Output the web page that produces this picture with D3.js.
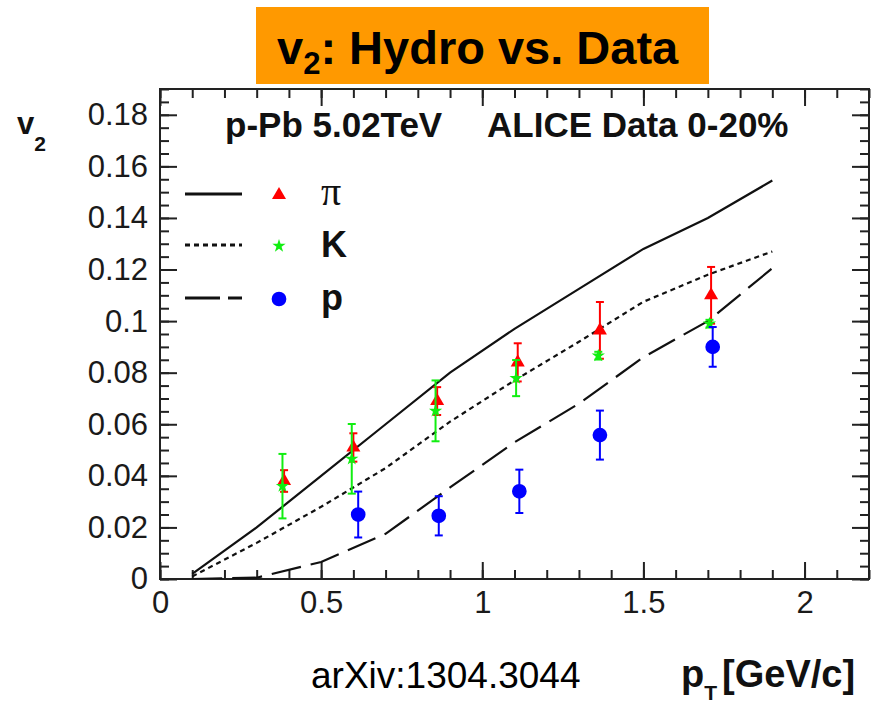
<!DOCTYPE html>
<html>
<head>
<meta charset="utf-8">
<script src="https://cdn.jsdelivr.net/npm/d3@7"></script>
<style>
  html, body { margin: 0; padding: 0; background: #fff; }
  svg { display: block; }
</style>
</head>
<body>
<svg id="chart" width="875" height="707"></svg>
<script>
// ALICE p-Pb 5.02 TeV, 0-20%: elliptic flow v2 vs pT, hydro curves and data

// Hydro curves (pT in GeV/c)
const hydroPt   = [0.1, 0.3, 0.5, 0.7, 0.9, 1.1, 1.3, 1.5, 1.7, 1.9];
const hydroPion = [0.002, 0.020, 0.040, 0.060, 0.080, 0.097, 0.1125, 0.128, 0.140, 0.1545];
const hydroKaon = [0.001, 0.014, 0.028, 0.043, 0.061, 0.077, 0.092, 0.1075, 0.118, 0.127];
const hydroProton = [0.000, 0.0005, 0.0066, 0.0175, 0.0355, 0.053, 0.068, 0.086, 0.100, 0.1205];

// ALICE data points
const pionPt  = [0.385, 0.60, 0.86, 1.11, 1.365, 1.71];
const pionV2  = [0.038, 0.051, 0.069, 0.084, 0.0964, 0.110];
const pionErr = [0.0042, 0.0055, 0.0054, 0.0074, 0.011, 0.011];

const kaonPt  = [0.38, 0.595, 0.855, 1.105, 1.36, 1.705];
const kaonV2  = [0.036, 0.0466, 0.0652, 0.0779, 0.0866, 0.099];
const kaonErr = [0.0125, 0.0135, 0.0118, 0.007, 0.0015, 0.0015];

const protonPt  = [0.615, 0.865, 1.115, 1.365, 1.715];
const protonV2  = [0.0250, 0.0245, 0.0340, 0.0558, 0.0900];
const protonErr = [0.0089, 0.0076, 0.0084, 0.0095, 0.0077];

// Axis ticks
const xTicks = [0, 0.5, 1, 1.5, 2];
const xTickLabels = ["0", "0.5", "1", "1.5", "2"];
const yTicks = [0, 0.02, 0.04, 0.06, 0.08, 0.1, 0.12, 0.14, 0.16, 0.18];
const yTickLabels = ["0", "0.02", "0.04", "0.06", "0.08", "0.1", "0.12", "0.14", "0.16", "0.18"];

const svg = d3.select("#chart");

const frame = { left: 160, right: 869, top: 89, bottom: 579 };
const x = d3.scaleLinear().domain([0, 2.2]).range([frame.left, frame.right]);
const y = d3.scaleLinear().domain([0, 0.19]).range([frame.bottom, frame.top]);

const SANS = "'Liberation Sans', Arial, Helvetica, sans-serif";
const SERIF = "'Liberation Serif', 'Times New Roman', serif";

// Title banner
svg.append("rect")
  .attr("x", 256).attr("y", 7).attr("width", 453).attr("height", 77)
  .attr("fill", "#ff9900");
const title = svg.append("text")
  .attr("x", 277).attr("y", 64)
  .attr("font-family", SANS).attr("font-weight", "bold").attr("font-size", 47)
  .attr("fill", "#000");
title.append("tspan").text("v");
title.append("tspan").attr("font-size", 31).attr("dy", 10).text("2");
title.append("tspan").attr("dy", -10).text(": Hydro vs. Data");

// Clip for curves
svg.append("defs").append("clipPath").attr("id", "plotClip")
  .append("rect")
  .attr("x", frame.left).attr("y", frame.top)
  .attr("width", frame.right - frame.left).attr("height", frame.bottom - frame.top);

// Axes: ticks on all four sides, pointing inward
const axisColor = "#222";
const majorLen = 17, minorLen = 9;
const xMinor = d3.range(0, 2.2001, 0.1);
const yMinor = d3.range(0, 0.1901, 0.005);

function styleAxis(g) {
  g.select(".domain").remove();
  g.selectAll(".tick line").attr("stroke", axisColor).attr("stroke-width", 2);
  g.selectAll(".tick text")
    .attr("font-family", SANS).attr("font-size", 31).attr("fill", "#1a1a1a");
}

// bottom
svg.append("g").attr("transform", `translate(0,${frame.bottom})`)
  .call(d3.axisBottom(x).tickValues(xMinor).tickSize(-minorLen).tickFormat(""))
  .call(styleAxis);
svg.append("g").attr("transform", `translate(0,${frame.bottom})`)
  .call(d3.axisBottom(x).tickValues(xTicks).tickSize(-majorLen).tickPadding(12)
    .tickFormat((d, i) => xTickLabels[i]))
  .call(styleAxis);
// top
svg.append("g").attr("transform", `translate(0,${frame.top})`)
  .call(d3.axisTop(x).tickValues(xMinor).tickSize(-minorLen).tickFormat(""))
  .call(styleAxis);
svg.append("g").attr("transform", `translate(0,${frame.top})`)
  .call(d3.axisTop(x).tickValues(xTicks).tickSize(-majorLen).tickFormat(""))
  .call(styleAxis);
// left
svg.append("g").attr("transform", `translate(${frame.left},0)`)
  .call(d3.axisLeft(y).tickValues(yMinor).tickSize(-minorLen).tickFormat(""))
  .call(styleAxis);
svg.append("g").attr("transform", `translate(${frame.left},0)`)
  .call(d3.axisLeft(y).tickValues(yTicks).tickSize(-majorLen).tickPadding(12)
    .tickFormat((d, i) => yTickLabels[i]))
  .call(styleAxis);
// right
svg.append("g").attr("transform", `translate(${frame.right},0)`)
  .call(d3.axisRight(y).tickValues(yMinor).tickSize(-minorLen).tickFormat(""))
  .call(styleAxis);
svg.append("g").attr("transform", `translate(${frame.right},0)`)
  .call(d3.axisRight(y).tickValues(yTicks).tickSize(-majorLen).tickFormat(""))
  .call(styleAxis);

// frame
svg.append("rect")
  .attr("x", frame.left).attr("y", frame.top)
  .attr("width", frame.right - frame.left).attr("height", frame.bottom - frame.top)
  .attr("fill", "none").attr("stroke", axisColor).attr("stroke-width", 2);

// Hydro curves
const line = d3.line().x(d => x(d[0])).y(d => y(d[1]));
const curves = [
  { vals: hydroPion,   dash: null },
  { vals: hydroKaon,   dash: "5,4" },
  { vals: hydroProton, dash: "30,10" }
];
const curveG = svg.append("g").attr("clip-path", "url(#plotClip)");
curves.forEach(c => {
  curveG.append("path")
    .datum(hydroPt.map((p, i) => [p, c.vals[i]]))
    .attr("d", line)
    .attr("fill", "none")
    .attr("stroke", "#111")
    .attr("stroke-width", 2.2)
    .attr("stroke-dasharray", c.dash);
});

// Data with error bars
function drawSeries(pts, vals, errs, color, symbol, size) {
  const g = svg.append("g");
  const capW = 4;
  pts.forEach((p, i) => {
    const cx = x(p), lo = y(vals[i] - errs[i]), hi = y(vals[i] + errs[i]);
    g.append("line").attr("x1", cx).attr("x2", cx).attr("y1", lo).attr("y2", hi)
      .attr("stroke", color).attr("stroke-width", 2);
    [lo, hi].forEach(yy => {
      g.append("line").attr("x1", cx - capW).attr("x2", cx + capW)
        .attr("y1", yy).attr("y2", yy)
        .attr("stroke", color).attr("stroke-width", 2);
    });
  });
  g.selectAll("path.mk").data(pts).join("path")
    .attr("class", "mk")
    .attr("transform", (p, i) => `translate(${x(p)},${y(vals[i])})`)
    .attr("d", d3.symbol().type(symbol).size(size))
    .attr("fill", color);
}

drawSeries(pionPt, pionV2, pionErr, "#ff0000", d3.symbolTriangle, 85);
drawSeries(kaonPt, kaonV2, kaonErr, "#11ee11", d3.symbolStar, 55);
drawSeries(protonPt, protonV2, protonErr, "#0000ff", d3.symbolCircle, 170);

// Legend
const legend = [
  { dash: null,   color: "#ff0000", symbol: d3.symbolTriangle, size: 85,  label: "π", serif: true,  y: 194 },
  { dash: "5,4",  color: "#11ee11", symbol: d3.symbolStar,     size: 55,  label: "K", serif: false, y: 245 },
  { dash: "35,8", color: "#0000ff", symbol: d3.symbolCircle,   size: 170, label: "p", serif: false, y: 298 }
];
const lg = svg.append("g");
legend.forEach(e => {
  lg.append("line").attr("x1", 185).attr("x2", 242).attr("y1", e.y).attr("y2", e.y)
    .attr("stroke", "#111").attr("stroke-width", 3).attr("stroke-dasharray", e.dash);
  lg.append("path").attr("transform", `translate(279,${e.y + 1})`)
    .attr("d", d3.symbol().type(e.symbol).size(e.size)).attr("fill", e.color);
  lg.append("text").attr("x", 321).attr("y", e.y + (e.serif ? 11 : 12))
    .attr("font-family", e.serif ? SERIF : SANS)
    .attr("font-weight", e.serif ? "normal" : "bold")
    .attr("font-size", e.serif ? 40 : 36)
    .attr("fill", "#111").text(e.label);
});

// Header texts
svg.append("text").attr("x", 225).attr("y", 137)
  .attr("font-family", SANS).attr("font-weight", "bold").attr("font-size", 35)
  .attr("fill", "#111").text("p-Pb 5.02TeV");
svg.append("text").attr("x", 487).attr("y", 137)
  .attr("font-family", SANS).attr("font-weight", "bold").attr("font-size", 35)
  .attr("fill", "#111").text("ALICE Data 0-20%");

// Axis titles
const yl = svg.append("text").attr("x", 17).attr("y", 134)
  .attr("font-family", SANS).attr("font-weight", "bold").attr("font-size", 31).attr("fill", "#111");
yl.append("tspan").text("v");
yl.append("tspan").attr("font-size", 21).attr("dy", 17).text("2");

const xl = svg.append("text").attr("x", 681).attr("y", 687)
  .attr("font-family", SANS).attr("font-weight", "bold").attr("font-size", 38).attr("fill", "#111");
xl.append("tspan").text("p");
xl.append("tspan").attr("font-size", 21).attr("dy", 13).text("T");
xl.append("tspan").attr("dy", -13).attr("dx", 5).text("[GeV/c]");

// Reference note
svg.append("text").attr("x", 311).attr("y", 688)
  .attr("font-family", SANS).attr("font-size", 37).attr("fill", "#000")
  .text("arXiv:1304.3044");
</script>
</body>
</html>
